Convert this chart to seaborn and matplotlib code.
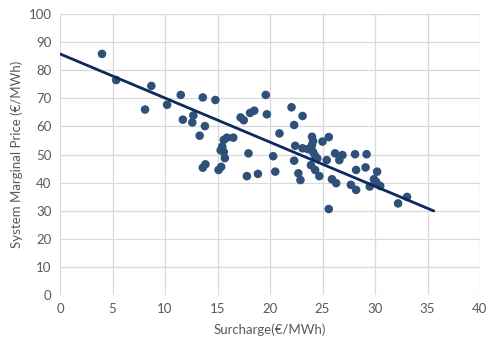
import matplotlib
matplotlib.use("Agg")
import matplotlib.pyplot as plt
import seaborn as sns
import numpy as np
import pandas as pd

surcharge = [4.0, 5.35, 8.1, 8.7, 10.2, 11.5, 11.7, 12.6, 12.7, 13.3, 13.6, 13.8, 13.6, 13.85,
             14.8, 15.1, 15.35, 15.3, 15.45, 15.6, 15.6, 15.7, 15.9, 16.5, 17.2, 17.5, 17.8,
             17.95, 18.1, 18.5, 18.85, 19.6, 19.7, 20.3, 20.5, 20.9, 22.05, 22.3, 23.1, 22.3,
             22.4, 22.7, 22.9, 23.1, 23.6, 23.9, 24.0, 24.0, 24.1, 24.3, 24.3, 24.5, 24.7,
             25.0, 25.4, 25.6, 25.6, 25.9, 26.2, 26.3, 26.6, 26.9, 27.7, 28.1, 28.2, 28.2,
             29.1, 29.2, 29.5, 29.9, 30.1, 30.2, 30.5, 32.2, 33.05, 24.1, 23.9]
smp = [85.8, 76.5, 66.0, 74.4, 67.7, 71.2, 62.4, 61.4, 63.9, 56.7, 70.3, 60.1, 45.3, 46.5,
       69.4, 44.5, 45.6, 51.5, 52.8, 50.9, 55.2, 48.7, 56.0, 56.0, 63.2, 62.2, 42.3,
       50.4, 64.8, 65.6, 43.1, 71.2, 64.3, 49.4, 43.9, 57.5, 66.8, 60.5, 63.7, 47.8,
       53.1, 43.3, 40.9, 52.2, 51.9, 46.2, 53.4, 56.3, 50.9, 49.5, 44.5, 48.6, 42.3,
       54.6, 48.0, 56.2, 30.6, 41.2, 50.4, 39.8, 48.0, 49.8, 39.2, 50.1, 37.4, 44.5,
       45.4, 50.1, 38.6, 41.2, 40.3, 43.9, 38.8, 32.6, 34.9, 54.8, 52.4]
trend_x = [0.0, 35.6]
trend_y = [85.8, 29.9]

df = pd.DataFrame({"Surcharge": surcharge, "SMP": smp})
trend = pd.DataFrame({"x": trend_x, "y": trend_y})

sns.set_theme(style="white")
plt.rcParams['font.family'] = ['Lato', 'DejaVu Sans']

fig = plt.figure(figsize=(4.87, 3.45), dpi=100)
ax = fig.add_axes([60/487, 50/345, 420/487, 281/345])

sns.scatterplot(data=df, x="Surcharge", y="SMP", ax=ax, color="#2E5079",
                s=38, edgecolor="none", zorder=3)
sns.lineplot(data=trend, x="x", y="y", ax=ax, color="#0C2A5E", linewidth=2.0, zorder=4)

ax.set_xlim(0, 40)
ax.set_ylim(0, 100)
ax.set_xticks(range(0, 41, 5))
ax.set_yticks(range(0, 101, 10))
ax.grid(True, color="#D9D9D9", linewidth=0.9)
ax.set_axisbelow(True)
for sp in ax.spines.values():
    sp.set_visible(False)
ax.tick_params(axis="both", length=0, labelsize=9.5, labelcolor="#595959", pad=6)
ax.set_xlabel("Surcharge(€/MWh)", fontsize=9.5, color="#595959", labelpad=6)
ax.set_ylabel("System Marginal Price (€/MWh)", fontsize=9.5, color="#595959", labelpad=4)

fig.savefig("out.png", dpi=100)
